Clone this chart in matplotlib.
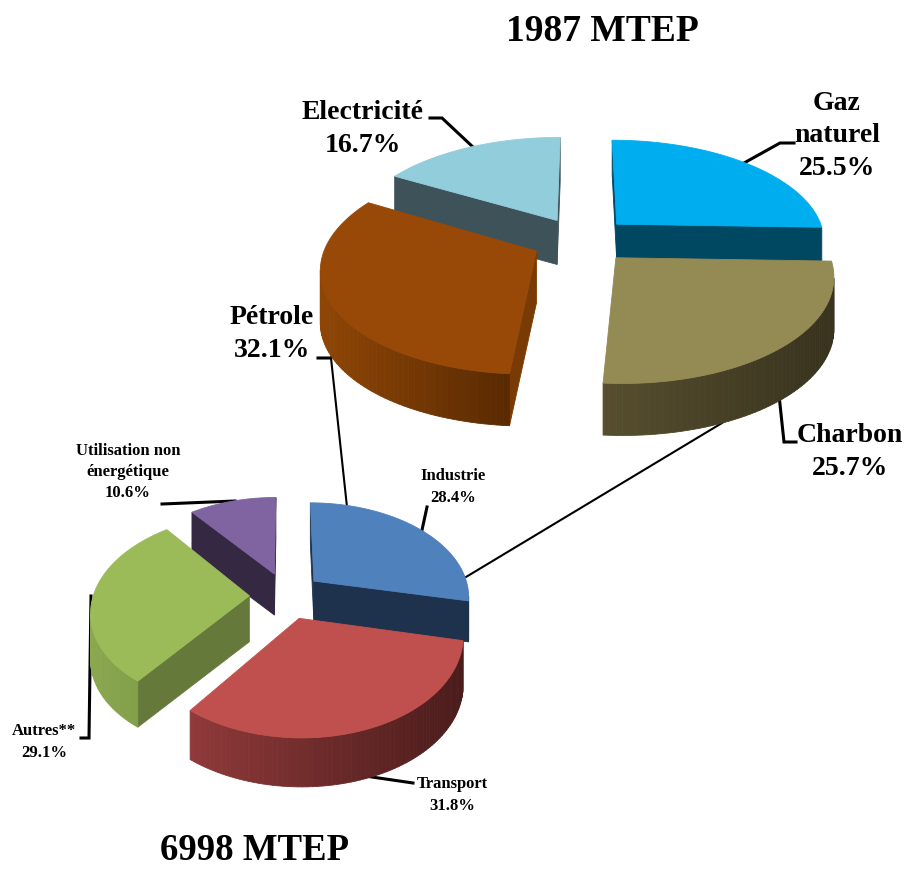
import numpy as np
import matplotlib
matplotlib.use("Agg")
import matplotlib.pyplot as plt
from matplotlib.colors import to_rgb
from matplotlib.patches import Polygon

plt.rcParams['font.family'] = ['Liberation Serif', 'DejaVu Serif']

# 1987 MTEP
names_1987 = ["Gaz\nnaturel", "Charbon", "Pétrole", "Electricité"]
values_1987 = [25.5, 25.7, 32.1, 16.7]
# 6998 MTEP
names_6998 = ["Industrie", "Transport", "Autres**", "Utilisation non\nénergétique"]
values_6998 = [28.4, 31.8, 29.1, 10.6]

# colours for the top, the flat cut face, and the rim (left to right)
top_1987 = ["#00AEEF", "#948A54", "#984807", "#92CDDC"]
face_1987 = ["#004761", "#3B3520", "#7A3A03", "#3E5259"]
rim_left_1987 = ["#004761", "#574F2E", "#8F4605", "#3E5259"]
rim_right_1987 = ["#004761", "#38321E", "#5A2A02", "#3E5259"]

top_6998 = ["#4F81BD", "#C0504D", "#9BBB59", "#8064A2"]
face_6998 = ["#1F324D", "#8E3835", "#65793A", "#352842"]
rim_left_6998 = ["#1F324D", "#90393A", "#8AA84F", "#352842"]
rim_right_6998 = ["#1F324D", "#4A1C1B", "#7D9A46", "#352842"]

# wall height of each slice, in pixels
depth_1987 = [35, 52, 52, 44]
depth_6998 = [41, 49, 46, 41]


def project(u, v, pie):
    """ground plane to picture, nearer points come out larger"""
    s = 1 / (1 - pie["k"] * v)
    return pie["cx"] + pie["f"] * u * s, pie["cy"] + pie["g"] * v * s


def quad(ax, pts, color, zorder):
    ax.add_patch(Polygon(pts, closed=True, facecolor=color, edgecolor=color, lw=0.6, zorder=zorder))


def draw_slice(ax, pie, a1, a2, top, face, rim_l, rim_r, depth, zorder):
    mid = (a1 + a2) / 2
    ua = pie["ex"] * np.sin(mid)
    va = -pie["ey"] * np.cos(mid)
    t = np.linspace(a1, a2, int((a2 - a1) / np.radians(1.5)) + 2)
    xs, ys = project(ua + np.sin(t), va - np.cos(t), pie)
    ax0, ay0 = project(ua, va, pie)

    # the two cut faces, only when they look towards us
    qx, qy = xs[len(xs) // 2], ys[len(ys) // 2]
    for i in [0, -1]:
        px, py = xs[i], ys[i]
        side = (px - ax0) * (qy - ay0) - (py - ay0) * (qx - ax0)
        if (px > ax0 and side < 0) or (px < ax0 and side > 0):
            quad(ax, [(ax0, ay0), (px, py), (px, py + depth), (ax0, ay0 + depth)], face, zorder)

    # outer wall, shaded along x
    c1, c2 = np.array(to_rgb(rim_l)), np.array(to_rgb(rim_r))
    seen = xs.min(), xs.max()
    for i in range(len(t) - 1):
        if xs[i + 1] < xs[i]:
            w = (xs[i] - seen[0]) / (seen[1] - seen[0])
            col = c1 + (c2 - c1) * w
            quad(ax, [(xs[i], ys[i]), (xs[i + 1], ys[i + 1]),
                      (xs[i + 1], ys[i + 1] + depth), (xs[i], ys[i] + depth)], col, zorder)

    pts = [(ax0, ay0)] + list(zip(xs, ys))
    quad(ax, pts, top, zorder + 0.1)


def draw_pie(ax, pie, values, tops, faces, lefts, rights, depths, order):
    total = sum(values)
    edges = np.radians(np.cumsum([0] + values) / total * 360)
    for n, i in enumerate(order):
        draw_slice(ax, pie, edges[i], edges[i + 1], tops[i], faces[i], lefts[i], rights[i], depths[i], 5 + n)


fig = plt.figure(figsize=(9.07, 8.69), dpi=100)
ax = fig.add_axes([0, 0, 1, 1])
ax.set_xlim(0, 907)
ax.set_ylim(869, 0)
ax.axis("off")

pie_1987 = {"cx": 581.5, "cy": 240, "f": 209, "g": 101, "k": 0.15, "ex": 0.24, "ey": 0.23}
pie_6998 = {"cx": 286, "cy": 595.5, "f": 156, "g": 94, "k": 0.15, "ex": 0.235, "ey": 0.25}

# leader lines go under the pies
thin = [[(347, 507), (331, 358)], [(466, 577), (722, 423)]]
thick = [
    [(430, 118), (442, 118), (474, 148)],
    [(744, 163), (780, 143), (794, 143)],
    [(779, 395), (784, 442), (796, 442)],
    [(318, 358), (331, 358), (338, 350)],
    [(422, 530), (427, 507)],
    [(162, 504), (235, 501)],
    [(91, 596), (89, 738), (81, 738)],
    [(365, 776), (413, 783)],
]
for line in thin:
    ax.plot(*zip(*line), color="black", lw=1.5, zorder=1)
for line in thick:
    ax.plot(*zip(*line), color="black", lw=2.2, zorder=1, solid_joinstyle="miter")

draw_pie(ax, pie_1987, values_1987, top_1987, face_1987, rim_left_1987, rim_right_1987, depth_1987, [3, 0, 2, 1])
draw_pie(ax, pie_6998, values_6998, top_6998, face_6998, rim_left_6998, rim_right_6998, depth_6998, [3, 0, 2, 1])

ax.text(602, 41, "1987 MTEP", fontsize=27, fontweight="bold", ha="center", va="baseline")
ax.text(255, 860, "6998 MTEP", fontsize=26.5, fontweight="bold", ha="center", va="baseline")

# label centres, same order as the names
pos_1987 = [(837, 136), (850, 452), (272, 334), (363, 129)]
pos_6998 = [(453, 487), (452, 795), (44, 742), (128, 472)]


def label(name, value, xy, size, spacing):
    ax.text(xy[0], xy[1], "%s\n%.1f%%" % (name, value), fontsize=size, fontweight="bold",
            ha="center", va="center", linespacing=spacing, zorder=20)


for n, v, p in zip(names_1987, values_1987, pos_1987):
    label(n, v, p, 20, 1.4)
for n, v, p in zip(names_6998, values_6998, pos_6998):
    label(n, v, p, 12, 1.42)

fig.savefig("out.png", dpi=100)
